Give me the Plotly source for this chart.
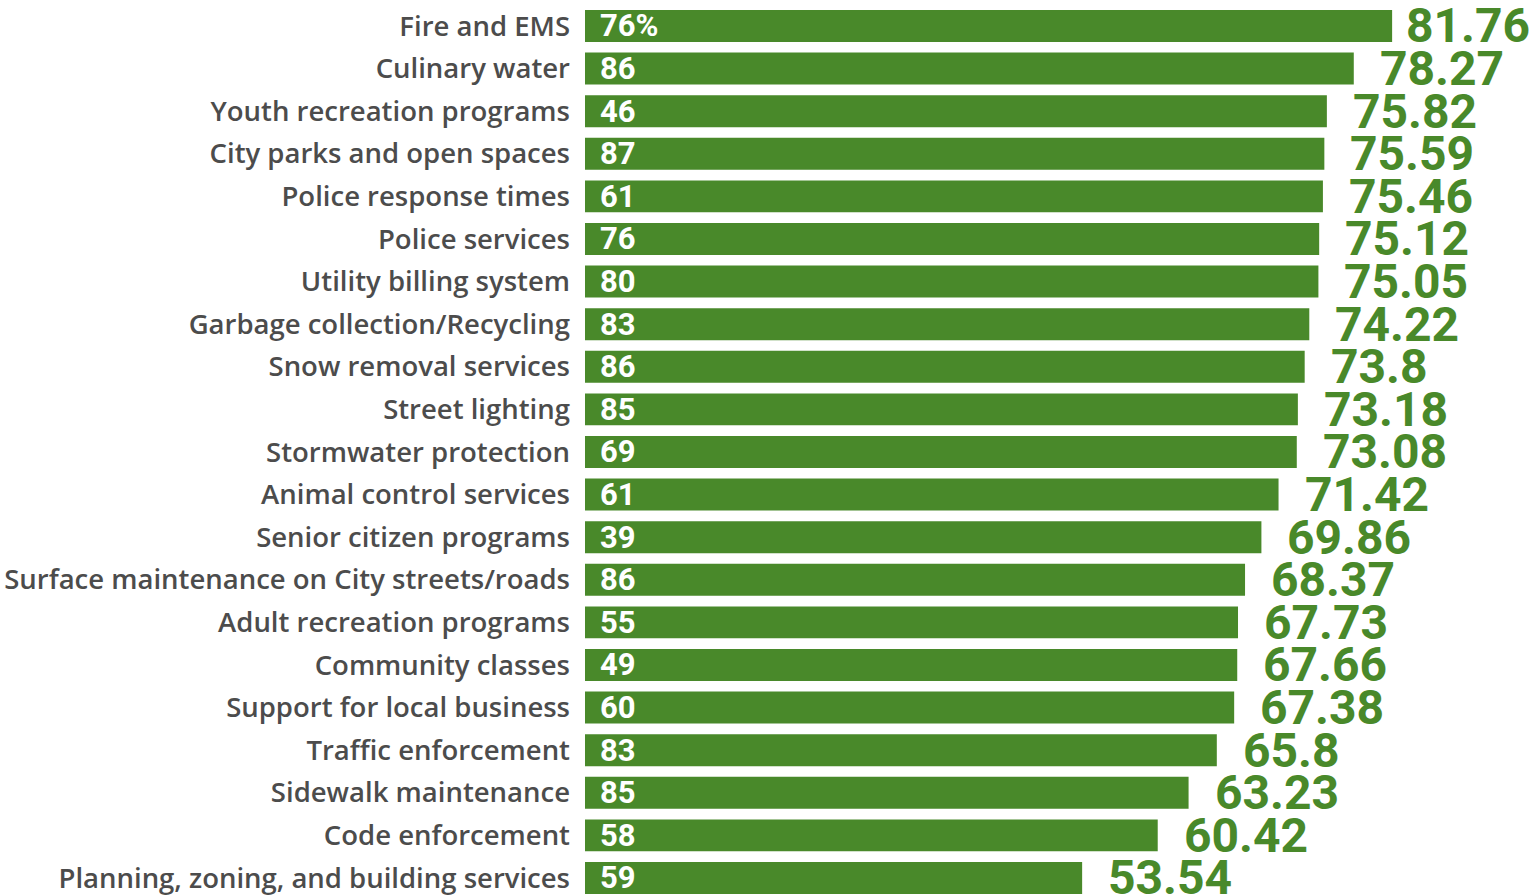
import plotly.graph_objects as go

categories = [
    "Fire and EMS", "Culinary water", "Youth recreation programs",
    "City parks and open spaces", "Police response times", "Police services",
    "Utility billing system", "Garbage collection/Recycling",
    "Snow removal services", "Street lighting", "Stormwater protection",
    "Animal control services", "Senior citizen programs",
    "Surface maintenance on City streets/roads", "Adult recreation programs",
    "Community classes", "Support for local business", "Traffic enforcement",
    "Sidewalk maintenance", "Code enforcement",
    "Planning, zoning, and building services",
]
scores = [81.76, 78.27, 75.82, 75.59, 75.46, 75.12, 75.05, 74.22, 73.8, 73.18,
          73.08, 71.42, 69.86, 68.37, 67.73, 67.66, 67.38, 65.8, 63.23, 60.42,
          53.54]
usage = ["76%", "86", "46", "87", "61", "76", "80", "83", "86", "85", "69",
         "61", "39", "86", "55", "49", "60", "83", "85", "58", "59"]

GREEN = "#49892a"
GRAY = "#4c4c4c"
FONT = "Roboto"
LABEL_FONT = "Open Sans"

fig = go.Figure(go.Bar(
    x=scores, y=categories, orientation="h",
    marker=dict(color=GREEN, line=dict(width=0)),
    hoverinfo="skip",
))

top = max(scores)
annotations = []
for cat, s, u in zip(categories, scores, usage):
    # score beside the bar end
    annotations.append(dict(
        x=s, y=cat, xref="x", yref="y", text=str(s), showarrow=False,
        xanchor="left", yanchor="middle", xshift=12 if s == top else 24,
        font=dict(family=FONT, size=48, color=GREEN, weight=700),
    ))
    # usage figure at the start of the bar
    annotations.append(dict(
        x=0, y=cat, xref="paper", yref="y", text=u, showarrow=False,
        xanchor="left", yanchor="middle", xshift=13,
        font=dict(family=FONT, size=31, color="white", weight=700),
    ))

fig.update_layout(
    width=1537, height=895,
    margin=dict(l=585, r=0, t=0, b=0),
    paper_bgcolor="white", plot_bgcolor="white",
    bargap=0.25, showlegend=False,
    annotations=annotations,
    xaxis=dict(range=[8.28, 94.95], visible=False, showgrid=False,
               zeroline=False),
    yaxis=dict(type="category", categoryorder="array",
               categoryarray=categories, range=[20.40, -0.61],
               showgrid=False, zeroline=False, showline=False, ticks="",
               ticklabelstandoff=14,
               tickfont=dict(family=LABEL_FONT, size=27.5, color=GRAY,
                             weight=600)),
)

fig.write_html("out.html")
